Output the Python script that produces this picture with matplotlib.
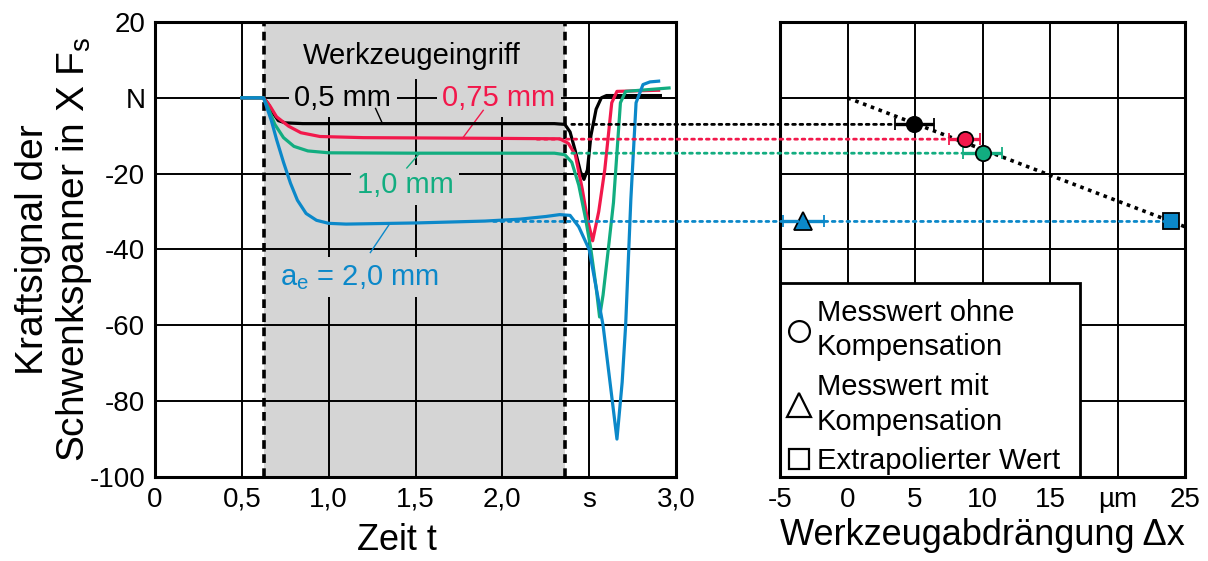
import matplotlib
matplotlib.use('Agg')
import matplotlib.pyplot as plt
from matplotlib.lines import Line2D
from matplotlib.patches import ConnectionPatch, Rectangle

plt.rcParams['font.family'] = ['Liberation Sans', 'DejaVu Sans']

# force signal over time, one curve per engagement width a_e
t_05 = [0.5, 0.625, 0.65, 0.68, 0.71, 0.75, 0.85, 1.5, 2.3, 2.36, 2.39, 2.42, 2.45, 2.47,
        2.49, 2.51, 2.54, 2.57, 2.60, 2.91]
f_05 = [0, 0, -1.5, -4, -6, -6.6, -6.8, -6.8, -6.8, -7, -9, -14, -19.5, -21.5,
        -19, -10, -3, 0, 0.6, 0.6]
t_075 = [0.5, 0.625, 0.66, 0.70, 0.77, 0.84, 0.95, 1.2, 2.0, 2.33, 2.38, 2.42, 2.46, 2.49,
         2.52, 2.555, 2.59, 2.63, 2.66, 2.90]
f_075 = [0, 0, -2, -5, -7.5, -9.2, -10.2, -10.5, -10.7, -10.8, -12, -15, -24, -32,
         -37.7, -30, -18.9, -1.3, 1.7, 2.0]
t_10 = [0.5, 0.625, 0.65, 0.69, 0.74, 0.80, 0.88, 1.0, 1.5, 2.3, 2.36, 2.40, 2.44, 2.48,
        2.51, 2.54, 2.56, 2.58, 2.61, 2.64, 2.68, 2.71, 2.96]
f_10 = [0, 0, -2.5, -7, -10.5, -12.8, -14, -14.5, -14.6, -14.6, -15, -17, -23, -32,
        -40, -50, -57.8, -52, -40, -27.6, -1.3, 1.7, 2.6]
t_20 = [0.5, 0.625, 0.64, 0.67, 0.70, 0.74, 0.78, 0.82, 0.87, 0.93, 1.0, 1.1, 1.5, 1.9,
        2.1, 2.25, 2.33, 2.39, 2.44, 2.50, 2.58, 2.62, 2.66, 2.69, 2.71, 2.74, 2.77, 2.81,
        2.85, 2.90]
f_20 = [0, 0, -2, -6, -11, -17, -22.5, -27, -30.5, -32.3, -33.1, -33.3, -33, -32.5,
        -32, -31.3, -30.8, -31, -34, -40, -60, -75, -90, -75, -60, -26.8, -1.3, 3.5,
        4.2, 4.4]
engage = [0.625, 2.36]

# tool deflection
x_meas = [4.96, 8.67, 10.0]
y_meas = [-7.0, -10.9, -14.6]
xerr_meas = [1.45, 1.17, 1.48]
x_comp = -3.26
y_comp = -32.6
xerr_comp = 1.5
x_extra = 23.98
y_extra = -32.6
trend_x = [0, 25]
trend_y = [0, -34]
level_y = [-7.0, -10.9, -14.6, -32.6]
level_t0 = [2.40, 2.20, 2.40, 1.95]
level_x1 = [3.45, 7.45, 8.5, 23.98]

black = '#000000'
red = '#f2184b'
green = '#12ad80'
blue = '#0b88c9'
grey = '#d5d5d5'
colors = [black, red, green, blue]

fig = plt.figure(figsize=(12.08, 5.61), dpi=100)
ax1 = fig.add_axes([155 / 1208, 1 - 477 / 561, 521 / 1208, 455 / 561])
ax2 = fig.add_axes([780 / 1208, 1 - 477 / 561, 405 / 1208, 455 / 561])

# left: force signal
ax1.set_xlim(0, 3.0)
ax1.set_ylim(-100, 20)
ax1.axvspan(engage[0], engage[1], color=grey, zorder=0, lw=0)
for y in [-80, -60, -40, -20, 0]:
    ax1.axhline(y, color='black', lw=1.4, zorder=1)
for x in [0.5, 2.5]:
    ax1.axvline(x, color='black', lw=1.4, zorder=1)
ax1.axvline(1.0, ymax=(100 - 4.5) / 120, color='black', lw=1.4, zorder=1)
ax1.axvline(2.0, ymax=(100 - 4.5) / 120, color='black', lw=1.4, zorder=1)
ax1.axvline(1.5, ymax=(100 + 4.8) / 120, color='black', lw=1.4, zorder=1)
for x in engage:
    ax1.axvline(x, color='black', lw=2.6, ls=(0, (2.4, 1.5)), zorder=5)

ax1.plot(t_05, f_05, color=black, lw=2.3, zorder=6)
ax1.plot(t_075, f_075, color=red, lw=2.3, zorder=6)
ax1.plot(t_10, f_10, color=green, lw=2.3, zorder=6)
ax1.plot(t_20, f_20, color=blue, lw=2.3, zorder=6)

box = dict(facecolor=grey, edgecolor='none', pad=4)
ax1.text(1.48, 11, 'Werkzeugeingriff', fontsize=21, ha='center', va='center', bbox=box, zorder=3)
ax1.text(1.08, 0, '0,5 mm', fontsize=21, ha='center', va='center', color=black, bbox=box, zorder=3)
ax1.text(1.98, 0, '0,75 mm', fontsize=21, ha='center', va='center', color=red, bbox=box, zorder=3)
ax1.text(1.44, -23, '1,0 mm', fontsize=21, ha='center', va='center', color=green, bbox=box, zorder=3)
ax1.text(1.18, -47.3, 'a$_\\mathregular{e}$ = 2,0 mm', fontsize=21, ha='center', va='center',
         color=blue, bbox=box, zorder=3)
ax1.plot([1.27, 1.31], [-2.8, -6.8], color=black, lw=1.0, zorder=4)
ax1.plot([1.89, 1.77], [-3.3, -10.7], color=red, lw=1.0, zorder=4)
ax1.plot([1.45, 1.52], [-18.5, -14.8], color=green, lw=1.0, zorder=4)
ax1.plot([1.24, 1.35], [-40.8, -33.3], color=blue, lw=1.0, zorder=4)

ax1.set_xticks([0, 0.5, 1.0, 1.5, 2.0, 2.5, 3.0])
ax1.set_xticklabels(['0', '0,5', '1,0', '1,5', '2,0', 's', '3,0'])
ax1.set_yticks([-100, -80, -60, -40, -20, 0, 20])
ax1.set_yticklabels(['-100', '-80', '-60', '-40', '-20', 'N', '20'])
ax1.tick_params(length=0, labelsize=20, pad=7)
ax1.set_xlabel('Zeit t', fontsize=26)
ax1.xaxis.set_label_coords(0.465, -0.1)
ax1.set_ylabel('Kraftsignal der\nSchwenkspanner in X F$_\\mathregular{s}$', fontsize=28,
               labelpad=-3, linespacing=1.1)

# right: deflection
ax2.set_xlim(-5, 25)
ax2.set_ylim(-100, 20)
for y in [-80, -60, -40, -20, 0]:
    ax2.axhline(y, color='black', lw=1.4, zorder=1)
for x in [0, 5, 10, 15, 20]:
    ax2.axvline(x, color='black', lw=1.4, zorder=1)
ax2.plot(trend_x, trend_y, color='black', lw=2.6, ls=(0, (1, 1.3)), zorder=4)

for i in range(4):
    con = ConnectionPatch(xyA=(level_t0[i], level_y[i]), coordsA='data', axesA=ax1,
                          xyB=(level_x1[i], level_y[i]), coordsB='data', axesB=ax2,
                          color=colors[i], lw=2.0, ls=':', zorder=3)
    fig.add_artist(con)

for i in range(3):
    ax2.errorbar(x_meas[i], y_meas[i], xerr=xerr_meas[i], fmt='o', color=colors[i],
                 mfc=colors[i], mec='black', ms=11, mew=1.3, elinewidth=2.4, capsize=4,
                 capthick=2.2, zorder=6)
ax2.errorbar(x_comp, y_comp, xerr=xerr_comp, fmt='^', color=blue, mfc=blue, mec='black',
             ms=13, mew=1.3, elinewidth=2.4, capsize=4, capthick=2.2, zorder=6)
ax2.plot(x_extra, y_extra, marker='s', color=blue, mec='black', ms=11, mew=1.3, ls='none', zorder=6)

# legend box
ax2.add_patch(Rectangle((0, 0), 300 / 405, 194 / 455, transform=ax2.transAxes,
                        facecolor='white', edgecolor='black', lw=2, zorder=7))
handles = [Line2D([], [], marker='o', ls='none', mfc='white', mec='black', ms=15, mew=1.6),
           Line2D([], [], marker='^', ls='none', mfc='white', mec='black', ms=17, mew=1.6),
           Line2D([], [], marker='s', ls='none', mfc='white', mec='black', ms=15, mew=1.6)]
labels = ['Messwert ohne\nKompensation', 'Messwert mit\nKompensation', 'Extrapolierter Wert']
leg = ax2.legend(handles, labels, loc='lower left', bbox_to_anchor=(0.022, 0.004),
                 borderaxespad=0, frameon=False, fontsize=21, handlelength=0.7,
                 handletextpad=0.25, labelspacing=0.4, borderpad=0)
for t in leg.get_texts():
    t.set_linespacing(1.3)
leg.set_zorder(8)

ax2.set_xticks([-5, 0, 5, 10, 15, 20, 25])
ax2.set_xticklabels(['-5', '0', '5', '10', '15', 'µm', '25'])
ax2.set_yticks([-100, -80, -60, -40, -20, 0, 20])
ax2.set_yticklabels([])
ax2.tick_params(length=0, labelsize=20, pad=7)
ax2.set_xlabel('Werkzeugabdrängung Δx', fontsize=26, labelpad=4)

for ax in (ax1, ax2):
    for s in ax.spines.values():
        s.set_linewidth(2.2)
        s.set_zorder(9)

fig.savefig('out.png', dpi=100)
